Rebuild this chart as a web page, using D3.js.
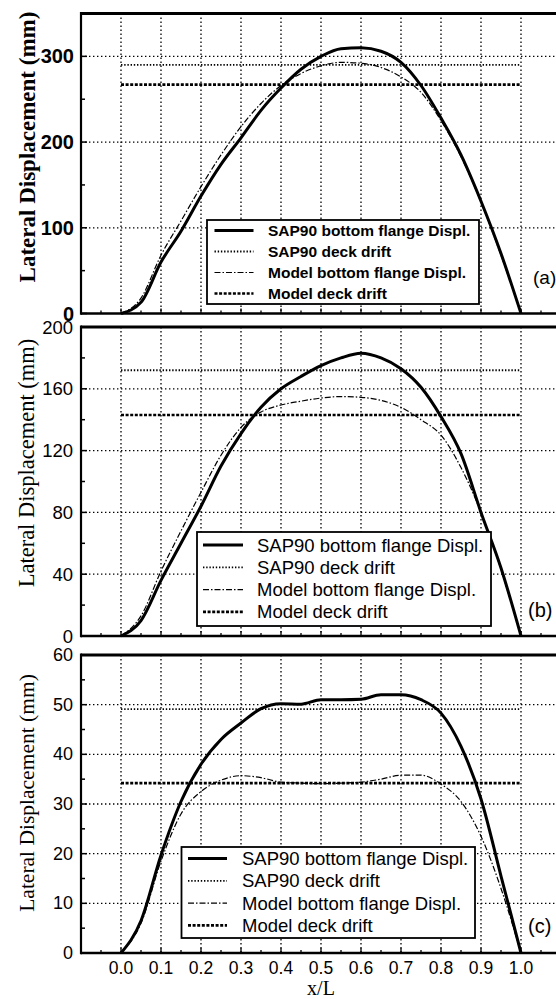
<!DOCTYPE html>
<html><head><meta charset="utf-8">
<script src="https://cdn.jsdelivr.net/npm/d3@7"></script>
<style>body{margin:0;background:#fff}svg{display:block}</style>
</head><body>
<svg id="chart" width="556" height="999"></svg>
<script>
// ---------- data ----------
const xPos = [0.00,0.05,0.10,0.15,0.20,0.25,0.30,0.35,0.40,0.45,0.50,0.55,0.60,0.65,0.70,0.75,0.80,0.85,0.90,0.95,1.00];
// panel (a)
const sapBottomA   = [0,13,60,96,137,174,205,237,263,285,300,309,310,306,293,266,228,185,131,70,0];
const modelBottomA = [0,18,68,108,148,185,218,245,266,280,289,293,292,287,276,258,225,183,130,68,0];
// panel (b)
const sapBottomB   = [0,10,36,60,84,110,131,148,160,168,175,180,183,180,173,161,142,118,80,44,0];
const modelBottomB = [0,13,42,68,93,117,135,145,149.5,152,154,155,154.5,152.5,148,140,130,109,80,43,0];
// panel (c)
const sapBottomC   = [0,6.5,19.7,30.5,38,43,46.3,49.2,50.2,50.1,51,51,51.1,52,52,51,48.3,41.6,31,15.5,0];
const modelBottomC = [0,6,18.5,28,32.5,34.8,35.7,35.3,34.4,34.2,34.1,34.2,34.4,35,35.8,35.8,34,30.5,23.5,13,0];
// deck drifts (constant along span), per panel a, b, c
const sapDeck   = [290, 172, 49.1];
const modelDeck = [267, 143, 34.2];
const deckSpan  = [0, 1];

const xTickValues = [0.0,0.1,0.2,0.3,0.4,0.5,0.6,0.7,0.8,0.9,1.0];
const xTickLabels = ["0.0","0.1","0.2","0.3","0.4","0.5","0.6","0.7","0.8","0.9","1.0"];
const yTicksA = [0,100,200,300];
const yTicksB = [0,40,80,120,160,200];
const yTicksC = [0,10,20,30,40,50,60];
const yMax = [350, 200, 60];
const yMinorStep = [50, 20, 5];
const legendLabels = ["SAP90 bottom flange Displ.","SAP90 deck drift","Model bottom flange Displ.","Model deck drift"];
const panelTags = ["(a)","(b)","(c)"];
const yTitle = "Lateral Displacement (mm)";
const xTitle = "x/L";

// ---------- layout ----------
const svg = d3.select("#chart");
const x = d3.scaleLinear().domain([-0.1, 1.2]).range([81, 601]);

const panels = [
  {top:13.5, bottom:313.5, ticks:yTicksA, tickFont:"bold 20px 'Liberation Sans', Arial, sans-serif", tickX:74,
   titleFont:"bold 23px 'Liberation Serif', 'Times New Roman', serif", titleX:35, titleY:147,
   leg:{x0:207,x1:479,y0:220,y1:304,row0:230.5,dy:21,l0:214.5,l1:253.5,tx:268,font:"bold 15.5px 'Liberation Sans', Arial, sans-serif"},
   tag:{x:533,y:277,font:"19px 'Liberation Sans', Arial, sans-serif"},
   sap:sapBottomA, model:modelBottomA},
  {top:327, bottom:636, ticks:yTicksB, tickFont:"18.5px 'Liberation Sans', Arial, sans-serif", tickX:73,
   titleFont:"22.5px 'Liberation Serif', 'Times New Roman', serif", titleX:34, titleY:463,
   leg:{x0:197,x1:491,y0:532,y1:626,row0:545,dy:22.3,l0:203,l1:243,tx:257,font:"18.5px 'Liberation Sans', Arial, sans-serif"},
   tag:{x:528,y:610,font:"20px 'Liberation Sans', Arial, sans-serif"},
   sap:sapBottomB, model:modelBottomB},
  {top:655, bottom:953, ticks:yTicksC, tickFont:"18px 'Liberation Sans', Arial, sans-serif", tickX:73,
   titleFont:"21.5px 'Liberation Serif', 'Times New Roman', serif", titleX:34, titleY:793,
   leg:{x0:181.5,x1:475,y0:847,y1:938,row0:858.5,dy:22.3,l0:188,l1:227,tx:242,font:"18.5px 'Liberation Sans', Arial, sans-serif"},
   tag:{x:528,y:926,font:"20px 'Liberation Sans', Arial, sans-serif"},
   sap:sapBottomC, model:modelBottomC}
];

const styles = [
  {w:3, dash:null},          // SAP90 bottom flange
  {w:1.8, dash:"1.4,1.8"},   // SAP90 deck drift
  {w:1.2, dash:"6,2,1.5,2"}, // Model bottom flange
  {w:2.6, dash:"3,1.6"}      // Model deck drift
];

panels.forEach((p, i) => {
  const y = d3.scaleLinear().domain([0, yMax[i]]).range([p.bottom, p.top]);
  const g = svg.append("g");
  const xl = x(-0.1);

  // grid
  g.selectAll(".vg").data(xTickValues).join("line")
    .attr("x1", d => x(d)).attr("x2", d => x(d)).attr("y1", p.top).attr("y2", p.bottom)
    .attr("stroke", "#000").attr("stroke-width", 1.3).attr("stroke-dasharray", "1.4,2.6");
  g.selectAll(".hg").data(p.ticks.filter(t => t > 0 && t < yMax[i])).join("line")
    .attr("x1", xl).attr("x2", 556).attr("y1", d => y(d)).attr("y2", d => y(d))
    .attr("stroke", "#000").attr("stroke-width", 1.3).attr("stroke-dasharray", "1.4,2.6");

  // series
  const line = d3.line().x(d => x(d[0])).y(d => y(d[1])).curve(d3.curveMonotoneX);
  const draw = (pts, s) => g.append("path").attr("d", line(pts)).attr("fill", "none")
    .attr("stroke", "#000").attr("stroke-width", s.w).attr("stroke-dasharray", s.dash)
    .attr("stroke-linejoin", "round");
  draw(deckSpan.map(v => [v, sapDeck[i]]), styles[1]);
  draw(deckSpan.map(v => [v, modelDeck[i]]), styles[3]);
  draw(xPos.map((v, k) => [v, p.model[k]]), styles[2]);
  draw(xPos.map((v, k) => [v, p.sap[k]]), styles[0]);

  // legend
  const L = p.leg;
  g.append("rect").attr("x", L.x0).attr("y", L.y0).attr("width", L.x1 - L.x0).attr("height", L.y1 - L.y0)
    .attr("fill", "#fff").attr("stroke", "#000").attr("stroke-width", 1.8);
  legendLabels.forEach((lab, k) => {
    const cy = L.row0 + k * L.dy;
    g.append("line").attr("x1", L.l0).attr("x2", L.l1).attr("y1", cy).attr("y2", cy)
      .attr("stroke", "#000").attr("stroke-width", styles[k].w).attr("stroke-dasharray", styles[k].dash);
    g.append("text").attr("x", L.tx).attr("y", cy).attr("dominant-baseline", "central")
      .style("font", L.font).attr("fill", "#000").text(lab);
  });

  // tag
  g.append("text").attr("x", p.tag.x).attr("y", p.tag.y).attr("dominant-baseline", "central")
    .style("font", p.tag.font).text(panelTags[i]);

  // ticks on left axis (inward)
  const minors = d3.range(0, yMax[i] + 1e-9, yMinorStep[i]);
  g.selectAll(".yt").data(minors).join("line")
    .attr("x1", xl).attr("x2", d => xl + (p.ticks.includes(d) ? 6 : 4))
    .attr("y1", d => y(d)).attr("y2", d => y(d)).attr("stroke", "#000").attr("stroke-width", 1.5);
  // ticks on bottom axis (inward)
  const xm = d3.range(-0.1, 1.21, 0.05);
  g.selectAll(".xt").data(xm).join("line")
    .attr("x1", d => x(d)).attr("x2", d => x(d))
    .attr("y1", p.bottom).attr("y2", (d, k) => p.bottom - (k % 2 === 0 ? 5 : 3))
    .attr("stroke", "#000").attr("stroke-width", 1.3);

  // frame
  g.append("line").attr("x1", xl).attr("x2", 556).attr("y1", p.top).attr("y2", p.top)
    .attr("stroke", "#000").attr("stroke-width", 3);
  g.append("line").attr("x1", xl).attr("x2", 556).attr("y1", p.bottom).attr("y2", p.bottom)
    .attr("stroke", "#000").attr("stroke-width", 2.6);
  g.append("line").attr("x1", xl).attr("x2", xl).attr("y1", p.top - 1.5).attr("y2", p.bottom + 1.3)
    .attr("stroke", "#000").attr("stroke-width", 2.2);

  // y tick labels
  g.selectAll(".yl").data(p.ticks).join("text")
    .attr("x", p.tickX).attr("y", d => y(d)).attr("text-anchor", "end")
    .attr("dominant-baseline", "central").style("font", p.tickFont).text(d => d);

  // y title
  g.append("text").attr("transform", `translate(${p.titleX},${p.titleY}) rotate(-90)`)
    .attr("text-anchor", "middle").style("font", p.titleFont).text(yTitle);
});

// x tick labels and title (bottom panel only)
svg.selectAll(".xl").data(xTickValues).join("text")
  .attr("x", d => x(d)).attr("y", 974).attr("text-anchor", "middle")
  .style("font", "17.5px 'Liberation Sans', Arial, sans-serif")
  .text((d, k) => xTickLabels[k]);
svg.append("text").attr("x", x(0.5)).attr("y", 995).attr("text-anchor", "middle")
  .style("font", "20px 'Liberation Serif', 'Times New Roman', serif").text(xTitle);
</script>
</body></html>
